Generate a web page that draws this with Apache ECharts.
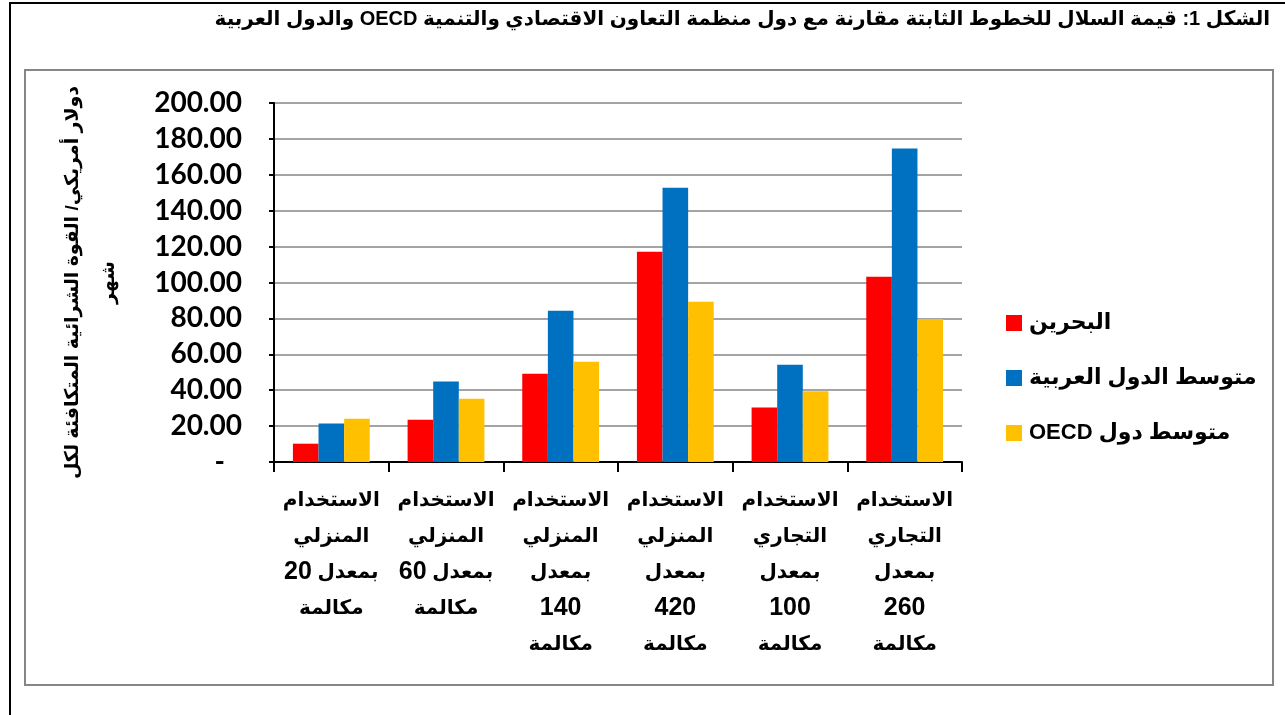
<!DOCTYPE html>
<html>
<head>
<meta charset="utf-8">
<script src="https://cdn.jsdelivr.net/npm/echarts@6/dist/echarts.min.js"></script>
<style>
html,body{margin:0;padding:0;background:#fff;}
#c{width:1285px;height:715px;direction:rtl;}
</style>
</head>
<body>
<div id="c"></div>
<script>
const titleText = 'الشكل 1: قيمة السلال للخطوط الثابتة مقارنة مع دول منظمة التعاون الاقتصادي والتنمية OECD والدول العربية';
const yAxisName = 'دولار أمريكي/ القوة الشرائية المتكافئة لكل\nشهر';
const categories = [
  'الاستخدام\nالمنزلي\nبمعدل 20\nمكالمة',
  'الاستخدام\nالمنزلي\nبمعدل 60\nمكالمة',
  'الاستخدام\nالمنزلي\nبمعدل\n140\nمكالمة',
  'الاستخدام\nالمنزلي\nبمعدل\n420\nمكالمة',
  'الاستخدام\nالتجاري\nبمعدل\n100\nمكالمة',
  'الاستخدام\nالتجاري\nبمعدل\n260\nمكالمة'
];
const seriesNames = ['البحرين', 'متوسط الدول العربية', 'متوسط دول OECD'];
const bahrain = [10.2, 23.6, 49.2, 117.2, 30.3, 103.2];
const arabAvg = [21.4, 44.8, 84.3, 152.8, 54.2, 174.6];
const oecdAvg = [24.1, 35.3, 55.9, 89.3, 39.4, 79.7];
const colors = ['#FF0000', '#0070C0', '#FFC000'];

const arFont = '"Liberation Sans", "DejaVu Sans", sans-serif';
const chart = echarts.init(document.getElementById('c'), null, {renderer: 'canvas'});
const dataSets = [bahrain, arabAvg, oecdAvg];

// Rich-text label: digits larger; rich tokens are laid out left-to-right,
// so segments of each right-to-left line are emitted in reverse order.
function richLabel(v) {
  return v.split('\n').map(function (line) {
    const segs = line.match(/\d+|[^\d]+/g) || [];
    return segs.reverse().map(function (s) {
      return /^\d+$/.test(s) ? '{n|' + s + '}' : '{a|' + s + '}';
    }).join('');
  }).join('\n');
}

chart.setOption({
  animation: false,
  backgroundColor: '#ffffff',
  title: {
    text: titleText,
    right: 10,
    top: 4,
    textStyle: {fontFamily: arFont, fontWeight: 'bold', fontSize: 20, color: '#000'}
  },
  graphic: [
    {type: 'rect', shape: {x: 10, y: 3, width: 1300, height: 730}, style: {fill: 'none', stroke: '#000', lineWidth: 2}, silent: true},
    {type: 'rect', shape: {x: 25, y: 70, width: 1248, height: 615}, style: {fill: 'none', stroke: '#868686', lineWidth: 2}, silent: true}
  ],
  legend: {
    orient: 'vertical',
    left: 1001,
    top: 307,
    itemWidth: 16,
    itemHeight: 16,
    itemGap: 33,
    icon: 'rect',
    data: seriesNames,
    textStyle: {fontFamily: arFont, fontWeight: 'bold', fontSize: 22, color: '#000', lineHeight: 21, padding: [0, 0, 0, 2]}
  },
  grid: {left: 274, right: 323, top: 103, bottom: 253, containLabel: false},
  xAxis: {
    type: 'category',
    data: categories,
    axisLine: {lineStyle: {color: '#000', width: 2}},
    axisTick: {show: true, length: 10, lineStyle: {color: '#000', width: 2}},
    axisLabel: {
      interval: 0, margin: 20,
      fontFamily: arFont, fontWeight: 'bold', fontSize: 20, lineHeight: 36, color: '#000',
      formatter: richLabel,
      rich: {
        a: {fontFamily: arFont, fontWeight: 'bold', fontSize: 20, lineHeight: 36, color: '#000'},
        n: {fontFamily: '"Liberation Sans", sans-serif', fontWeight: 'bold', fontSize: 25, lineHeight: 36, color: '#000'}
      }
    }
  },
  yAxis: {
    type: 'value',
    min: 0, max: 200, interval: 20,
    name: yAxisName,
    nameLocation: 'middle',
    nameRotate: 90,
    nameGap: 147,
    nameTextStyle: {fontFamily: arFont, fontWeight: 'bold', fontSize: 19, lineHeight: 36, color: '#000'},
    axisLine: {show: true, lineStyle: {color: '#000', width: 2}},
    axisTick: {show: true, length: 5, lineStyle: {color: '#000', width: 2}},
    splitLine: {lineStyle: {color: '#868686', width: 1.5}},
    axisLabel: {
      margin: 32,
      fontFamily: 'Lato, "Liberation Sans", sans-serif', fontWeight: 'bold', fontSize: 28, color: '#000',
      formatter: function (v) { return v === 0 ? '{d|-}' : v.toFixed(2); },
      rich: {d: {fontFamily: 'Lato, sans-serif', fontWeight: 'bold', fontSize: 28, color: '#000', padding: [0, 17, 0, 0]}}
    }
  },
  series: seriesNames.map(function (n, i) {
    return {
      name: n, type: 'bar', data: dataSets[i],
      barGap: 0, barCategoryGap: '33%',
      itemStyle: {color: colors[i]}
    };
  })
});
</script>
</body>
</html>
